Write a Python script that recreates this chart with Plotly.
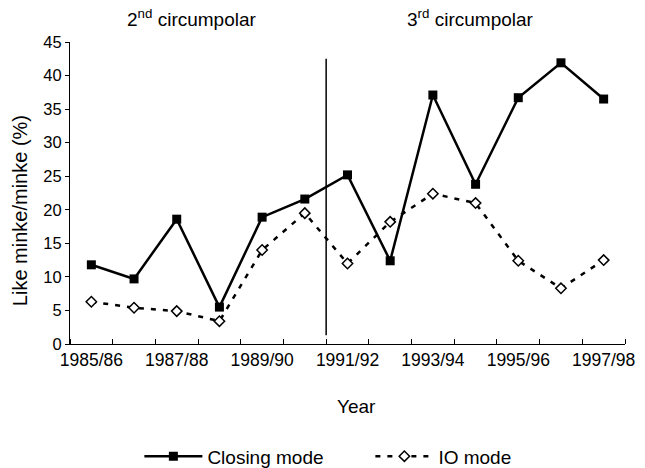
import plotly.graph_objects as go

seasons = ["1985/86", "1986/87", "1987/88", "1988/89", "1989/90", "1990/91", "1991/92",
           "1992/93", "1993/94", "1994/95", "1995/96", "1996/97", "1997/98"]
closing_mode = [11.8, 9.7, 18.6, 5.5, 18.9, 21.6, 25.2, 12.4, 37.1, 23.8, 36.7, 41.9, 36.5]
io_mode = [6.3, 5.4, 4.9, 3.4, 14.0, 19.5, 12.0, 18.2, 22.4, 21.0, 12.4, 8.3, 12.5]
label_every = 2
divider_after = "1990/91"
divider_span = [1.3, 42.5]

xs = list(range(len(seasons)))
font = "Liberation Sans, Arial, sans-serif"

fig = go.Figure()
fig.add_trace(go.Scatter(
    x=xs, y=closing_mode, name="Closing mode", mode="lines+markers",
    line=dict(color="black", width=2.5),
    marker=dict(symbol="square", size=9, color="black"),
))
fig.add_trace(go.Scatter(
    x=xs, y=io_mode, name="IO mode", mode="lines+markers",
    line=dict(color="black", width=2.5, dash="5px,7px"),
    marker=dict(symbol="diamond", size=8, color="white", line=dict(color="black", width=1.5)),
))

div_x = seasons.index(divider_after) + 0.5
fig.add_shape(type="line", x0=div_x, x1=div_x, y0=divider_span[0], y1=divider_span[1],
              xref="x", yref="y", line=dict(color="black", width=1.5))

fig.add_annotation(text="2<sup>nd</sup> circumpolar", x=2.36, y=1.0, xref="x", yref="paper",
                   yanchor="bottom", yshift=10, showarrow=False, font=dict(size=19, color="black", family=font))
fig.add_annotation(text="3<sup>rd</sup> circumpolar", x=8.87, y=1.0, xref="x", yref="paper",
                   yanchor="bottom", yshift=10, showarrow=False, font=dict(size=19, color="black", family=font))

# axis titles
fig.add_annotation(text="Like minke/minke (%)", textangle=-90, x=-0.09, y=0.44, xref="paper", yref="paper",
                   xanchor="center", yanchor="middle", showarrow=False, font=dict(size=20, color="black", family=font))
fig.add_annotation(text="Year", x=0.517, y=-0.206, xref="paper", yref="paper",
                   xanchor="center", yanchor="middle", showarrow=False, font=dict(size=19, color="black", family=font))

fig.update_layout(
    width=645, height=468,
    margin=dict(l=70, r=20, t=42, b=124, autoexpand=False),
    paper_bgcolor="white", plot_bgcolor="white",
    font=dict(family=font, color="black", size=16),
    showlegend=True,
    legend=dict(orientation="h", x=0.125, xanchor="left", y=-0.372, yanchor="middle",
                font=dict(size=19), itemwidth=58, entrywidth=158, bgcolor="rgba(0,0,0,0)"),
    xaxis=dict(
        range=[-0.5, len(seasons) - 0.5],
        tickvals=xs[::label_every], ticktext=seasons[::label_every],
        ticks="", showline=True, linecolor="black", linewidth=1.2,
        showgrid=False, zeroline=False,
        minor=dict(ticks="inside", tick0=-0.5, dtick=1, ticklen=5, tickcolor="black", tickwidth=1),
        tickfont=dict(size=17.5),
    ),
    yaxis=dict(
        range=[0, 45], dtick=5, ticks="outside", ticklen=4, tickcolor="black",
        showline=True, linecolor="black", linewidth=1.2,
        showgrid=False, zeroline=False, tickfont=dict(size=16.5),
    ),
)

fig.write_html("out.html", config={"displayModeBar": False},
               post_script="document.body.style.margin='0';document.body.style.overflow='hidden';")
